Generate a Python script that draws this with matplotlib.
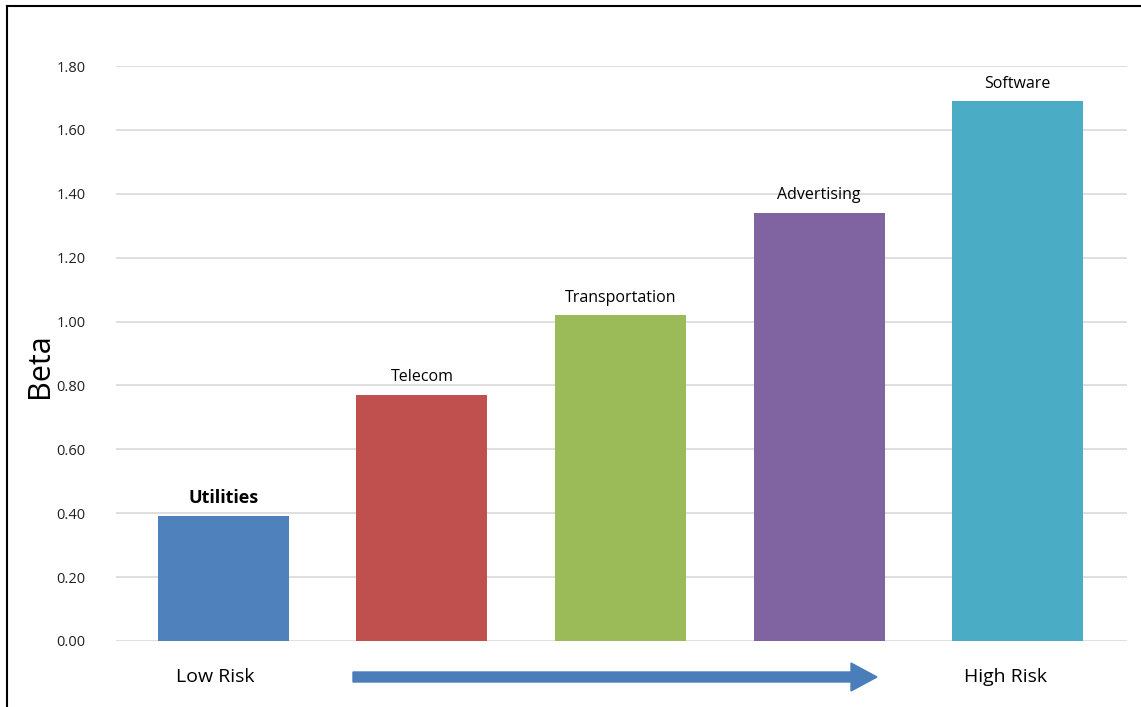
import matplotlib.pyplot as plt
import matplotlib.patches as mpatches
from matplotlib.lines import Line2D

categories = ['Utilities', 'Telecom', 'Transportation', 'Advertising', 'Software']
betas = [0.39, 0.77, 1.02, 1.34, 1.69]
colors = ['#4F81BD', '#C0504D', '#9BBB59', '#8064A2', '#4BACC6']
yticks = [0.0, 0.2, 0.4, 0.6, 0.8, 1.0, 1.2, 1.4, 1.6, 1.8]

plt.rcParams['font.family'] = ['Open Sans', 'DejaVu Sans']

W, H = 1141, 707
fig = plt.figure(figsize=(W / 100, H / 100), dpi=100)
ax = fig.add_axes([116 / W, 1 - 641 / H, (1127 - 116) / W, (641 - 66) / H])

x = list(range(len(categories)))
ax.bar(x, betas, width=0.66, color=colors, zorder=3)

for i, (name, v) in enumerate(zip(categories, betas)):
    bold = i == 0
    ax.text(i, v + 0.03, name, ha='center', va='bottom',
            fontsize=13 if bold else 11.5, fontweight='bold' if bold else 'normal',
            color='black', clip_on=False)

ax.set_xlim(-0.54, 4.55)
ax.set_ylim(0, 1.8)
ax.set_yticks(yticks)
ax.set_yticklabels(['%.2f' % t for t in yticks], fontsize=10.5, color='#222222')
ax.set_xticks([])
ax.tick_params(axis='y', length=0, pad=22)
ax.grid(axis='y', color='#d9d9d9', lw=1.2, zorder=0)
for s in ax.spines.values():
    s.set_visible(False)

# y axis title placed like the reference
fig.text(40 / W, 1 - 366 / H, 'Beta', rotation=90, ha='center', va='center', fontsize=22)

# risk annotation below the bars
fig.text(215 / W, 1 - 677 / H, 'Low Risk', ha='center', va='center', fontsize=14)
fig.text(1006 / W, 1 - 677 / H, 'High Risk', ha='center', va='center', fontsize=14)
arrow = mpatches.FancyArrow(353 / W, 1 - 677 / H, (877 - 353) / W, 0,
                            width=10 / H, head_width=28 / H, head_length=26 / W,
                            length_includes_head=True, color='#4A7EBB',
                            transform=fig.transFigure)
fig.patches.append(arrow)

# frame lines on left and top
fig.lines.append(Line2D([7 / W, 7 / W], [0, 1 - 6 / H], color='black', lw=1.5,
                        transform=fig.transFigure))
fig.lines.append(Line2D([7 / W, 1], [1 - 6 / H, 1 - 6 / H], color='black', lw=1.5,
                        transform=fig.transFigure))

fig.savefig('out.png', dpi=100)
